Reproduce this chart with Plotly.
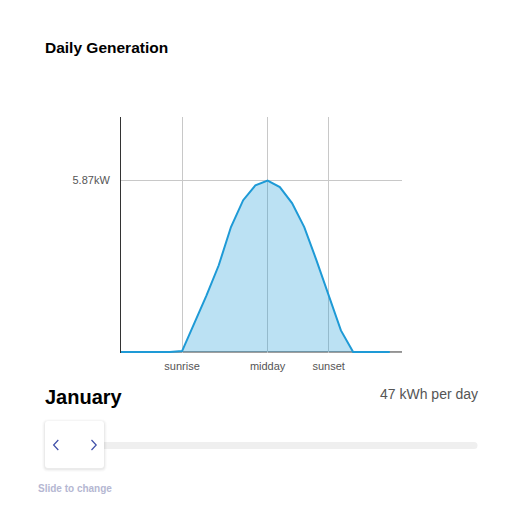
import plotly.graph_objects as go

# ---- data ----
hours = list(range(23))
power_kw = [0, 0, 0, 0, 0, 0.03, 0.97, 1.94, 2.97, 4.28, 5.20, 5.71, 5.87,
            5.65, 5.10, 4.28, 3.14, 1.94, 0.74, 0, 0, 0, 0]
x_tick_vals = [5, 12, 17]
x_tick_text = ["sunrise", "midday", "sunset"]
y_tick_vals = [5.87]
y_tick_text = ["5.87kW"]
title_text = "Daily Generation"
month_text = "January"
daily_text = "47 kWh per day"
hint_text = "Slide to change"

W, H = 528, 515
FONT = "Liberation Sans, Arial, Helvetica, sans-serif"


def px(x):
    return x / W


def py(y):
    return 1 - y / H


def rounded_rect(x0, y0, x1, y1, r):
    X0, X1 = px(x0), px(x1)
    Y0, Y1 = py(y0), py(y1)
    rx, ry = r / W, r / H
    return (f"M{X0+rx},{Y0} L{X1-rx},{Y0} Q{X1},{Y0} {X1},{Y0-ry} "
            f"L{X1},{Y1+ry} Q{X1},{Y1} {X1-rx},{Y1} L{X0+rx},{Y1} "
            f"Q{X0},{Y1} {X0},{Y1+ry} L{X0},{Y0-ry} Q{X0},{Y0} {X0+rx},{Y0} Z")


fig = go.Figure()
fig.add_trace(go.Scatter(
    x=hours, y=power_kw, mode="lines",
    line=dict(color="#1e9ad6", width=2),
    fill="tozeroy", fillcolor="rgba(30,154,214,0.3)",
    hoverinfo="skip", showlegend=False,
))

shapes = []
# x axis baseline (beneath the trace)
shapes.append(dict(type="line", xref="paper", yref="y",
                   x0=px(121), x1=px(402), y0=0, y1=0,
                   line=dict(color="#333", width=1), layer="below"))
# slider track
shapes.append(dict(type="rect", xref="paper", yref="paper",
                   x0=px(100), x1=px(474), y0=py(449), y1=py(442),
                   fillcolor="#efefef", line=dict(width=0), layer="above"))
shapes.append(dict(type="circle", xref="paper", yref="paper",
                   x0=px(470.5), x1=px(477.5), y0=py(449), y1=py(442),
                   fillcolor="#efefef", line=dict(width=0), layer="above"))
# handle shadow
for d, a in [(3, 0.015), (2, 0.025), (1, 0.04)]:
    shapes.append(dict(type="path", xref="paper", yref="paper",
                       path=rounded_rect(45 - d, 421 - d + 1, 104 + d, 468 + d + 1, 3 + d),
                       fillcolor=f"rgba(0,0,0,{a})", line=dict(width=0), layer="above"))
# handle
shapes.append(dict(type="path", xref="paper", yref="paper",
                   path=rounded_rect(45, 421, 104, 468, 3),
                   fillcolor="#ffffff", line=dict(width=0), layer="above"))
# arrows
arrow_col = "#3f4fa8"
shapes.append(dict(type="path", xref="paper", yref="paper",
                   path=f"M{px(58.3)},{py(440)} L{px(53.6)},{py(445)} L{px(58.3)},{py(450)}",
                   line=dict(color=arrow_col, width=1.2), layer="above"))
shapes.append(dict(type="path", xref="paper", yref="paper",
                   path=f"M{px(91.5)},{py(440)} L{px(96.2)},{py(445)} L{px(91.5)},{py(450)}",
                   line=dict(color=arrow_col, width=1.2), layer="above"))

annotations = [
    dict(text=f"<b>{title_text}</b>", x=px(45), y=py(47), xref="paper", yref="paper",
         xanchor="left", yanchor="middle", showarrow=False, xshift=-2,
         font=dict(family=FONT, size=15.5, color="#000")),
    dict(text=f"<b>{month_text}</b>", x=px(45), y=py(397), xref="paper", yref="paper",
         xanchor="left", yanchor="middle", showarrow=False, xshift=-2,
         font=dict(family=FONT, size=20, color="#000")),
    dict(text=daily_text, x=px(478), y=py(394), xref="paper", yref="paper",
         xanchor="right", yanchor="middle", showarrow=False, xshift=2,
         font=dict(family=FONT, size=14, color="#555")),
    dict(text=f"<b>{hint_text}</b>", x=px(38), y=py(488), xref="paper", yref="paper",
         xanchor="left", yanchor="middle", showarrow=False, xshift=-2,
         font=dict(family=FONT, size=10, color="#b5b7d2")),
]

fig.update_layout(
    width=W, height=H,
    margin=dict(l=0, r=0, t=0, b=0),
    paper_bgcolor="white", plot_bgcolor="white",
    font=dict(family=FONT, size=11, color="#555"),
    shapes=shapes, annotations=annotations,
    xaxis=dict(domain=[px(121), px(402)], range=[0, 23],
               tickvals=x_tick_vals, ticktext=x_tick_text,
               showgrid=True, gridcolor="#c8c8c8", gridwidth=1,
               showline=False,
               ticks="outside", ticklen=3, tickcolor="rgba(0,0,0,0)",
               zeroline=False, fixedrange=True, layer="below traces"),
    yaxis=dict(domain=[py(353), py(117)], range=[-0.035, 8.05],
               tickvals=y_tick_vals, ticktext=y_tick_text,
               showgrid=True, gridcolor="#c8c8c8", gridwidth=1,
               showline=True, linecolor="#333", linewidth=1,
               ticks="outside", ticklen=8, tickcolor="rgba(0,0,0,0)",
               zeroline=False, fixedrange=True, layer="below traces"),
)

fig.write_html("out.html", config={"displayModeBar": False},
               post_script="document.body.style.margin='0px';")
